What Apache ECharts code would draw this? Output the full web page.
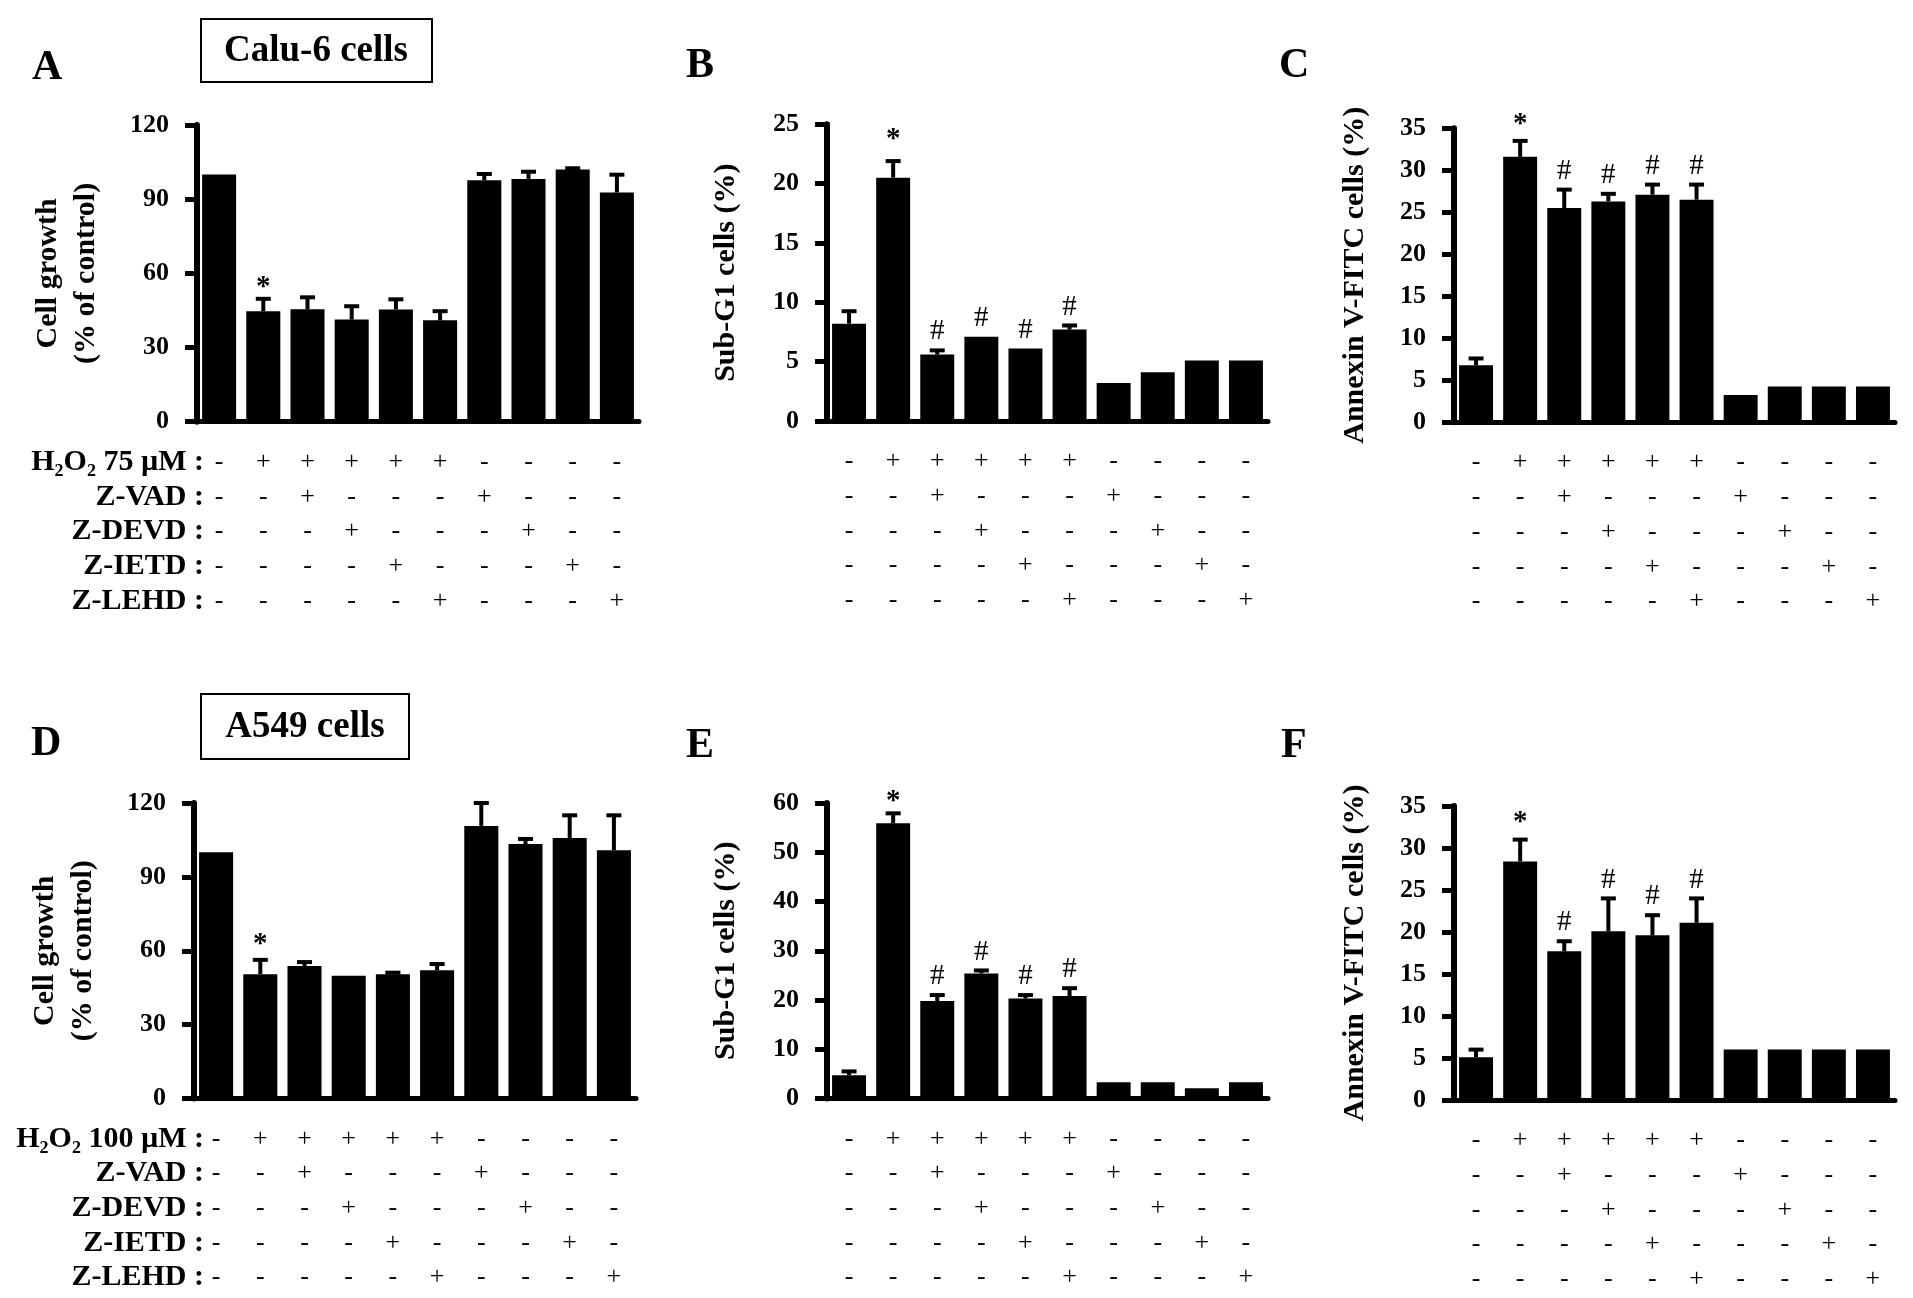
<!DOCTYPE html>
<html><head><meta charset="utf-8">
<script src="https://cdn.jsdelivr.net/npm/echarts@6/dist/echarts.min.js"></script>
<style>html,body{margin:0;padding:0;background:#fff}#c{width:1913px;height:1298px}</style>
</head><body><div id="c"></div>
<script>
// ---------- data ----------
const categories = ['Control','H2O2','H2O2+Z-VAD','H2O2+Z-DEVD','H2O2+Z-IETD','H2O2+Z-LEHD','Z-VAD','Z-DEVD','Z-IETD','Z-LEHD'];
const h2o2  = [0,1,1,1,1,1,0,0,0,0];
const zVAD  = [0,0,1,0,0,0,1,0,0,0];
const zDEVD = [0,0,0,1,0,0,0,1,0,0];
const zIETD = [0,0,0,0,1,0,0,0,1,0];
const zLEHD = [0,0,0,0,0,1,0,0,0,1];
const treatmentRows = [h2o2, zVAD, zDEVD, zIETD, zLEHD];
const rowLabelsCalu6 = ['H\u2082O\u2082 75 \u00b5M :','Z-VAD :','Z-DEVD :','Z-IETD :','Z-LEHD :'];
const rowLabelsA549  = ['H\u2082O\u2082 100 \u00b5M :','Z-VAD :','Z-DEVD :','Z-IETD :','Z-LEHD :'];

const calu6Growth     = [100, 44.7, 45.5, 41.3, 45.4, 41.0, 97.7, 98.2, 102.0, 92.7];
const calu6GrowthErr  = [0, 5.0, 4.8, 5.4, 4.1, 3.7, 2.5, 2.9, 0.5, 7.2];
const calu6SubG1      = [8.2, 20.5, 5.6, 7.1, 6.1, 7.7, 3.2, 4.1, 5.1, 5.1];
const calu6SubG1Err   = [1.05, 1.4, 0.35, 0, 0, 0.35, 0, 0, 0, 0];
const calu6Annexin    = [6.8, 31.6, 25.5, 26.3, 27.1, 26.5, 3.25, 4.25, 4.25, 4.25];
const calu6AnnexinErr = [0.8, 1.9, 2.2, 0.9, 1.2, 1.8, 0, 0, 0, 0];

const a549Growth      = [100, 50.5, 53.8, 49.8, 50.5, 52.1, 110.7, 103.3, 105.8, 100.8];
const a549GrowthErr   = [0, 5.8, 1.6, 0, 0.6, 2.5, 9.3, 2.1, 9.2, 14.2];
const a549SubG1       = [4.7, 55.9, 19.8, 25.4, 20.3, 20.8, 3.3, 3.3, 2.1, 3.3];
const a549SubG1Err    = [0.8, 2.0, 1.2, 0.6, 0.7, 1.6, 0, 0, 0, 0];
const a549Annexin     = [5.1, 28.4, 17.7, 20.1, 19.6, 21.1, 6.0, 6.0, 6.0, 6.0];
const a549AnnexinErr  = [0.9, 2.6, 1.2, 3.9, 2.4, 2.9, 0, 0, 0, 0];

const marksGrowth    = ['', '*', '', '', '', '', '', '', '', ''];
const marksApoptosis = ['', '*', '#', '#', '#', '#', '', '', '', ''];

const yNameGrowth  = 'Cell growth\n(% of control)';
const yNameSubG1   = 'Sub-G1 cells (%)';
const yNameAnnexin = 'Annexin V-FITC cells (%)';

// ---------- layout / style ----------
const SERIF = "'Liberation Serif','Times New Roman',serif";
const LH = 34.7;        // table row spacing
const LMARGIN = 23;     // table distance below x axis

const panels = [
  {letter:'A', lx:32,  ly:68,  left:197,  top:125,   width:442, height:296.7, max:120, interval:30, name:yNameGrowth,  gap:92, starLift:1,  values:calu6Growth,  errs:calu6GrowthErr,  marks:marksGrowth},
  {letter:'B', lx:686, ly:66,  left:827,  top:124.3, width:441, height:296.7, max:25,  interval:5,  name:yNameSubG1,   gap:82, starLift:11, values:calu6SubG1,   errs:calu6SubG1Err,   marks:marksApoptosis},
  {letter:'C', lx:1279,ly:66,  left:1454, top:128.3, width:441, height:294,   max:35,  interval:5,  name:yNameAnnexin, gap:80, starLift:6,  values:calu6Annexin, errs:calu6AnnexinErr, marks:marksApoptosis},
  {letter:'D', lx:31,  ly:744, left:194,  top:803,   width:442, height:295.5, max:120, interval:30, name:yNameGrowth,  gap:92, starLift:5,  values:a549Growth,   errs:a549GrowthErr,   marks:marksGrowth},
  {letter:'E', lx:686, ly:746, left:827,  top:803,   width:441, height:295.5, max:60,  interval:10, name:yNameSubG1,   gap:82, starLift:1,  values:a549SubG1,    errs:a549SubG1Err,    marks:marksApoptosis},
  {letter:'F', lx:1281,ly:746, left:1454, top:806,   width:441, height:294,   max:35,  interval:5,  name:yNameAnnexin, gap:80, starLift:7,  values:a549Annexin,  errs:a549AnnexinErr,  marks:marksApoptosis}
];

const grids = [], xAxes = [], yAxes = [], series = [], graphics = [];

panels.forEach((p, k) => {
  grids.push({left:p.left, top:p.top, width:p.width, height:p.height, containLabel:false});
  xAxes.push({
    type:'category', gridIndex:k, data:categories,
    axisLine:{lineStyle:{color:'#000', width:5}},
    axisTick:{alignWithLabel:true, length:13, lineStyle:{color:'#000', width:5}},
    axisLabel:{
      interval:0, margin:LMARGIN, color:'#000', fontFamily:SERIF, fontSize:26, lineHeight:LH,
      formatter:(v, idx) => treatmentRows.map(r => r[idx] ? '+' : '-').join('\n')
    },
    splitLine:{show:false}
  });
  yAxes.push({
    type:'value', gridIndex:k, min:0, max:p.max, interval:p.interval,
    name:p.name, nameLocation:'middle', nameRotate:90, nameGap:p.gap,
    nameTextStyle:{color:'#000', fontFamily:SERIF, fontWeight:'bold', fontSize:30, lineHeight:38},
    axisLine:{show:true, lineStyle:{color:'#000', width:6}},
    axisTick:{show:true, length:12, lineStyle:{color:'#000', width:5}},
    axisLabel:{color:'#000', fontFamily:SERIF, fontWeight:'bold', fontSize:26, margin:28},
    splitLine:{show:false}
  });
  series.push({
    type:'bar', xAxisIndex:k, yAxisIndex:k, data:p.values,
    barCategoryGap:'23%', itemStyle:{color:'#000'}, silent:true
  });
  const marks = p.marks, starLift = p.starLift;
  series.push({
    type:'custom', xAxisIndex:k, yAxisIndex:k, z:3,
    encode:{x:0, y:1},
    data:p.values.map((v, i) => [i, v, p.errs[i]]),
    renderItem:(params, api) => {
      const i = api.value(0), v = api.value(1), e = api.value(2);
      const base = api.coord([i, v]);
      const top = api.coord([i, v + e]);
      const bw = api.size([1, 0])[0];
      const capHalf = bw * 0.17;
      const ch = [];
      if (e > 0) {
        ch.push({type:'line', shape:{x1:base[0], y1:base[1], x2:top[0], y2:top[1]}, style:{stroke:'#000', lineWidth:4}});
        ch.push({type:'line', shape:{x1:top[0]-capHalf, y1:top[1], x2:top[0]+capHalf, y2:top[1]}, style:{stroke:'#000', lineWidth:4}});
      }
      const m = marks[params.dataIndex];
      if (m) {
        const star = m === '*';
        ch.push({type:'text', x:top[0], y:top[1] + (star ? 4 - starLift : -4),
          style:{text:m, fill:'#000', font:(star ? 'bold ' : '') + '29px ' + SERIF, textAlign:'center', textVerticalAlign:'bottom'}});
      }
      return {type:'group', children:ch};
    }
  });
  graphics.push({type:'text', left:p.lx, top:p.ly - 21,
    style:{text:p.letter, fill:'#000', font:'bold 42px ' + SERIF}});
  const labels = k < 3 ? rowLabelsCalu6 : rowLabelsA549;
  if (k === 0 || k === 3) {
    const yBase = p.top + p.height + LMARGIN;
    labels.forEach((t, n) => {
      graphics.push({type:'text', x:204, y:yBase + LH * (n + 0.5),
        style:{text:t, fill:'#000', font:'bold 30px ' + SERIF, textAlign:'right', textVerticalAlign:'middle'}});
    });
  }
});

// cell-line title boxes
graphics.push({type:'rect', shape:{x:201, y:19, width:231, height:63}, style:{fill:'none', stroke:'#000', lineWidth:2}});
graphics.push({type:'text', x:316, y:51, style:{text:'Calu-6 cells', fill:'#000', font:'bold 37px ' + SERIF, textAlign:'center', textVerticalAlign:'middle'}});
graphics.push({type:'rect', shape:{x:201, y:694, width:208, height:65}, style:{fill:'none', stroke:'#000', lineWidth:2}});
graphics.push({type:'text', x:305, y:727, style:{text:'A549 cells', fill:'#000', font:'bold 37px ' + SERIF, textAlign:'center', textVerticalAlign:'middle'}});

const chart = echarts.init(document.getElementById('c'), null, {renderer:'canvas'});
chart.setOption({
  backgroundColor:'#fff', animation:false,
  grid:grids, xAxis:xAxes, yAxis:yAxes, series:series, graphic:graphics
});
</script>
</body></html>
